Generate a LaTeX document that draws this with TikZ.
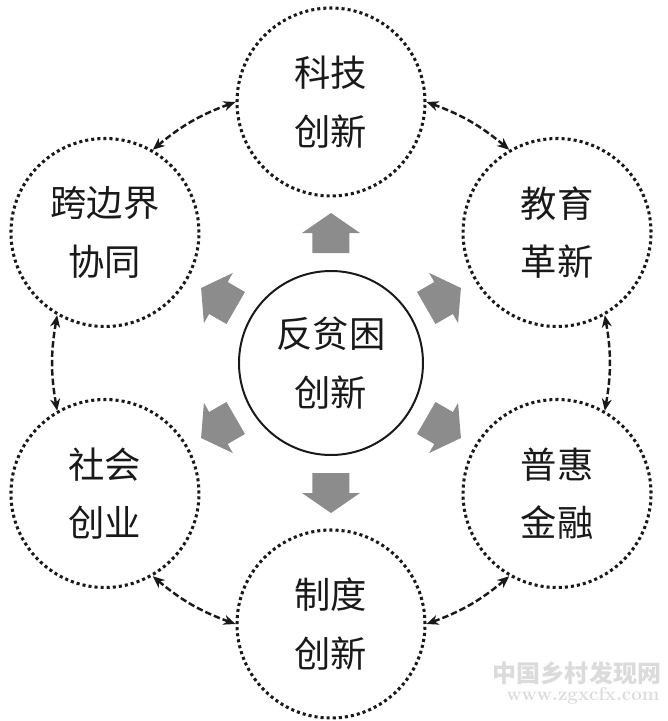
\documentclass[tikz,border=0pt]{standalone}
\usepackage{fontspec}
\newfontfamily\cjk{Noto Sans CJK SC}
\usetikzlibrary{arrows.meta}

\tikzset{
  ringtext/.style={font=\cjk\fontsize{31}{50}\selectfont, text=black!90, align=center},
  outercircle/.style={ringtext, circle, draw=black!90, line width=2.6pt, dash pattern=on 2.6pt off 2.6pt, minimum size=5.64cm, inner sep=0pt},
  centercircle/.style={ringtext, circle, draw=black!90, line width=1.7pt, minimum size=5.52cm, inner sep=0pt},
  linkarrow/.style={{Stealth[length=3.6mm,width=3mm]}-{Stealth[length=3.6mm,width=3mm]}, line width=2.1pt, dash pattern=on 5.5pt off 2.5pt, draw=black!90},
  blockarrow/.style={fill=black!45},
  watermark/.style={text=black!14, inner sep=0pt}
}

\begin{document}
\begin{tikzpicture}[x=0.03cm, y=0.03cm]
		% --- WYMIARY ---
		\def\RingDist{261} % od środka do kół zewnętrznych
		\def\ShaftStart{110}
		\def\HeadBase{130}
		\def\HeadTip{150}
		
		\useasboundingbox (-331,-358) rectangle (337,363);
		
		% Koło środkowe
		\node[centercircle] (fpkcx) at (0,0) {反贫困\\创新};
		
		% Koła zewnętrzne (kropkowane)
		\node[outercircle] (kjcx) at (90:\RingDist) {科技\\创新};
		\node[outercircle] (jygx) at (30:\RingDist) {教育\\革新};
		\node[outercircle] (phjr) at (-30:\RingDist) {普惠\\金融};
		\node[outercircle] (zdcx) at (-90:\RingDist) {制度\\创新};
		\node[outercircle] (shcy) at (-150:\RingDist) {社会\\创业};
		\node[outercircle] (kbjxt) at (150:\RingDist) {跨边界\\协同};
		
		% --- Szare strzałki blokowe ---
		\foreach \ang in {90,30,-30,-90,-150,150}
			\fill[blockarrow, rotate=\ang] (\ShaftStart,-18.5) -- (\HeadBase,-18.5) -- (\HeadBase,-29) -- (\HeadTip,0) -- (\HeadBase,29) -- (\HeadBase,18.5) -- (\ShaftStart,18.5) -- cycle;
		
		% --- Łuki dwustronne między kołami ---
		\draw[linkarrow] (kjcx.0) to[bend left=10] (jygx.120);
		\draw[linkarrow] (jygx.-60) to[bend left=10] (phjr.60);
		\draw[linkarrow] (phjr.-120) to[bend left=10] (zdcx.0);
		\draw[linkarrow] (zdcx.180) to[bend left=10] (shcy.-60);
		\draw[linkarrow] (shcy.120) to[bend left=10] (kbjxt.-120);
		\draw[linkarrow] (kbjxt.60) to[bend left=10] (kjcx.180);
		
		% Znak wodny
		\node[watermark, font=\cjk\bfseries\fontsize{20.5}{23}\selectfont] (wmname) at (246,-310) {中国乡村发现网};
		\node[watermark, font=\bfseries\fontsize{16}{18}\selectfont] (wmurl) at (252,-333) {www.zgxcfx.com};
		
	\end{tikzpicture}
\end{document}
